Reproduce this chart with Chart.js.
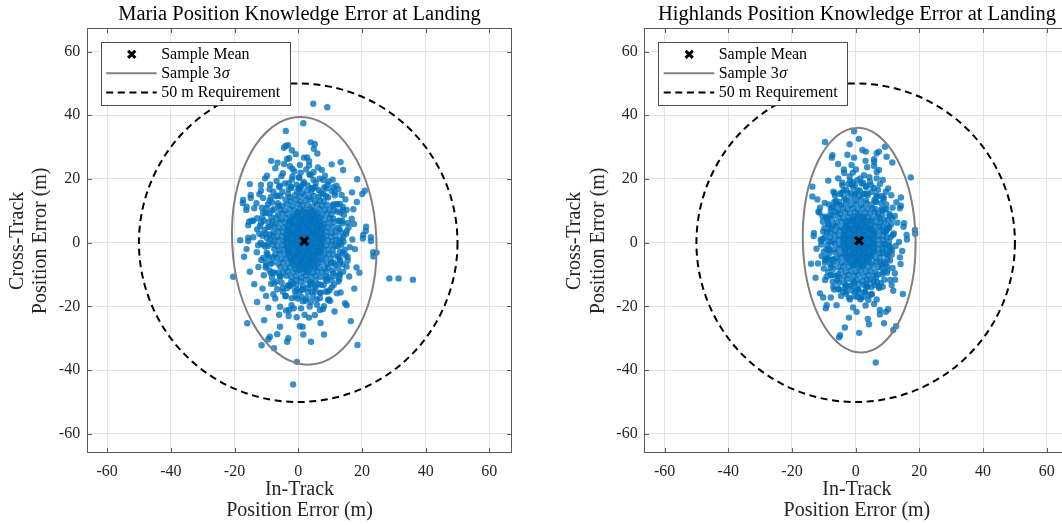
<!DOCTYPE html>
<html><head><meta charset="utf-8">
<script src="https://cdn.jsdelivr.net/npm/chart.js@4.4.1/dist/chart.umd.min.js"></script>
<style>
html,body{margin:0;padding:0;background:#fff;width:1062px;height:525px;overflow:hidden;position:relative}
canvas{position:absolute;top:0}
#c1{left:0}
#c2{left:531px}
</style></head><body>
<canvas id="c1" width="531" height="525"></canvas>
<canvas id="c2" width="558" height="525"></canvas>
<script>
// ---------- axes ----------
const xTicks = [-60, -40, -20, 0, 20, 40, 60];
const yTicks = [-60, -40, -20, 0, 20, 40, 60];
const xRange = [-66.4, 67.2];
const yRange = [-66.1, 67.3];
const titles = ['Maria Position Knowledge Error at Landing', 'Highlands Position Knowledge Error at Landing'];
const xTitle = ['In-Track', 'Position Error (m)'];
const yTitle = ['Cross-Track', 'Position Error (m)'];
const legendLabels = ['Sample Mean', 'Sample 3', '50 m Requirement'];

// ---------- requirement circle: center x, center y, radius ----------
const requirement = [0, 0, 50];

// ---------- Maria ----------
const mariaMean = [1.9, 0.5];
// 3-sigma ellipse: center x, center y, semi-axis x, semi-axis y, rotation (deg)
const mariaEllipse = [1.9, 0.6, 22.65, 38.9, 2.6];
const mariaCore = [
[-0.3,16.2],[1.2,15.7],[2.8,16.4],[4.1,15.9],
[-2.6,14.3],[-1.0,14.9],[0.4,14.5],[2.1,14.8],[3.5,14.2],[5.0,14.7],[6.5,14.4],
[-4.0,13.5],[-2.4,13.0],[-0.9,13.4],[0.7,12.9],[2.2,13.3],[3.9,13.6],[5.3,12.9],[6.8,13.2],[8.0,13.0],
[-5.0,11.6],[-3.5,12.0],[-1.8,11.5],[-0.2,12.1],[1.3,11.7],[2.9,11.9],[4.4,11.4],[5.9,12.0],[7.5,11.6],[9.0,11.9],
[-5.8,10.6],[-4.3,10.1],[-2.6,10.5],[-1.1,10.2],[0.5,10.7],[2.0,10.3],[3.6,10.6],[5.1,10.1],[6.7,10.5],[8.3,10.2],[9.7,10.4],
[-6.4,8.8],[-5.0,9.2],[-3.3,9.0],[-1.7,8.7],[-0.2,9.3],[1.4,8.9],[2.9,9.1],[4.4,8.7],[6.0,9.2],[7.5,8.8],[9.1,9.1],[10.4,8.9],
[-6.9,7.8],[-5.4,7.4],[-3.8,7.7],[-2.3,7.3],[-0.8,7.9],[0.7,7.5],[2.3,7.8],[3.8,7.4],[5.3,7.6],[6.9,7.9],[8.4,7.3],[9.9,7.7],[11.0,7.5],
[-7.2,6.0],[-5.8,6.5],[-4.1,6.1],[-2.7,6.4],[-1.0,5.9],[0.4,6.3],[2.0,6.0],[3.5,6.5],[5.1,6.1],[6.6,6.4],[8.1,5.9],[9.7,6.2],[11.2,6.4],
[-7.6,5.0],[-6.0,4.6],[-4.6,4.9],[-3.0,4.5],[-1.5,5.1],[0.1,4.7],[1.6,5.0],[3.1,4.6],[4.7,4.9],[6.2,4.5],[7.8,5.0],[9.3,4.7],[10.8,4.9],
[-7.8,3.2],[-6.4,3.6],[-4.8,3.3],[-3.3,3.7],[-1.8,3.1],[-0.2,3.5],[1.3,3.2],[2.8,3.6],[4.3,3.3],[5.9,3.7],[7.4,3.2],[9.0,3.5],[10.5,3.1],[11.7,3.6],
[-8.0,2.2],[-6.6,1.8],[-5.1,2.1],[-3.5,1.7],[-2.0,2.3],[-0.5,1.9],[1.0,2.2],[2.6,1.8],[4.1,2.1],[5.6,2.4],[7.2,1.8],[8.7,2.2],[10.3,1.9],[11.8,2.1],
[-7.7,0.4],[-6.2,0.8],[-4.6,0.5],[-3.1,0.9],[-1.6,0.3],[0.0,0.7],[1.5,0.4],[3.1,0.8],[4.6,0.5],[6.1,0.9],[7.7,0.4],[9.2,0.7],[10.7,0.5],[12.0,0.8],
[-7.9,-0.6],[-6.5,-1.0],[-5.0,-0.7],[-3.4,-1.1],[-1.9,-0.5],[-0.3,-0.9],[1.2,-0.6],[2.7,-1.0],[4.3,-0.7],[5.8,-1.1],[7.3,-0.5],[8.9,-0.9],[10.4,-0.6],[11.7,-1.0],
[-7.5,-2.0],[-6.0,-2.4],[-4.5,-2.1],[-2.9,-2.5],[-1.4,-1.9],[0.2,-2.3],[1.7,-2.0],[3.2,-2.4],[4.8,-2.1],[6.3,-2.5],[7.8,-2.0],[9.4,-2.3],[10.9,-2.1],
[-7.3,-3.8],[-5.8,-3.4],[-4.2,-3.7],[-2.7,-3.3],[-1.1,-3.9],[0.4,-3.5],[2.0,-3.8],[3.5,-3.4],[5.0,-3.7],[6.6,-3.3],[8.1,-3.8],[9.6,-3.5],[11.1,-3.7],
[-6.8,-4.8],[-5.3,-5.2],[-3.7,-4.9],[-2.2,-5.3],[-0.6,-4.7],[0.9,-5.1],[2.5,-4.8],[4.0,-5.2],[5.5,-4.9],[7.1,-5.3],[8.6,-4.8],[10.2,-5.1],
[-6.3,-6.6],[-4.8,-6.2],[-3.2,-6.5],[-1.7,-6.1],[-0.1,-6.7],[1.4,-6.3],[3.0,-6.6],[4.5,-6.2],[6.0,-6.5],[7.6,-6.1],[9.1,-6.6],[10.3,-6.3],
[-5.6,-7.6],[-4.1,-8.0],[-2.5,-7.7],[-1.0,-8.1],[0.6,-7.5],[2.1,-7.9],[3.7,-7.6],[5.2,-8.0],[6.7,-7.7],[8.3,-8.1],[9.5,-7.7],
[-4.8,-9.4],[-3.3,-9.0],[-1.7,-9.3],[-0.2,-8.9],[1.4,-9.5],[2.9,-9.1],[4.5,-9.4],[6.0,-9.0],[7.5,-9.3],[8.8,-9.1],
[-3.7,-10.4],[-2.2,-10.8],[-0.6,-10.5],[0.9,-10.9],[2.5,-10.3],[4.0,-10.7],[5.6,-10.4],[7.0,-10.8],
[-2.2,-12.2],[-0.7,-11.8],[0.8,-12.1],[2.4,-11.7],[3.9,-12.3],[5.5,-11.9],
[-0.5,-13.3],[1.5,-13.6],[3.6,-13.2]
];
const mariaInner = [
[-0.2,9.6],[1.4,9.9],[3.0,9.5],[4.4,9.8],
[-1.7,8.2],[-0.1,8.5],[1.6,8.1],[3.2,8.4],[4.7,8.2],[5.8,8.5],
[-2.5,6.9],[-1.0,7.1],[0.6,6.8],[2.2,7.0],[3.8,6.7],[5.3,7.1],[6.6,6.9],
[-3.1,5.5],[-1.6,5.7],[0.0,5.4],[1.5,5.6],[3.1,5.3],[4.6,5.7],[6.1,5.5],[7.2,5.4],
[-3.4,4.1],[-1.9,3.9],[-0.3,4.2],[1.2,4.0],[2.8,4.3],[4.3,3.9],[5.8,4.2],[7.4,4.0],
[-3.6,2.7],[-2.1,2.9],[-0.5,2.6],[1.0,2.8],[2.6,2.5],[4.1,2.9],[5.7,2.6],[7.3,2.8],
[-3.8,1.3],[-2.3,1.1],[-0.7,1.4],[0.8,1.2],[2.4,1.5],[3.9,1.1],[5.5,1.4],[7.0,1.2],[7.8,1.5],
[-3.7,-0.1],[-2.2,0.1],[-0.6,-0.2],[0.9,0.0],[2.5,-0.3],[4.0,0.1],[5.6,-0.2],[7.1,0.0],
[-3.5,-1.5],[-2.0,-1.3],[-0.4,-1.6],[1.1,-1.4],[2.7,-1.7],[4.2,-1.3],[5.8,-1.6],[7.3,-1.4],
[-3.2,-2.9],[-1.6,-3.1],[-0.1,-2.8],[1.5,-3.0],[3.0,-2.7],[4.6,-3.1],[6.1,-2.8],[7.2,-3.0],
[-2.8,-4.3],[-1.3,-4.1],[0.3,-4.4],[1.8,-4.2],[3.4,-4.5],[4.9,-4.1],[6.5,-4.4],
[-2.1,-5.7],[-0.5,-5.9],[1.0,-5.6],[2.6,-5.8],[4.1,-5.5],[5.7,-5.9],
[-1.2,-7.1],[0.4,-6.9],[1.9,-7.2],[3.5,-7.0],[5.0,-7.3],
[0.3,-8.5],[1.9,-8.3],[3.4,-8.6]
];
const mariaRing = [
[13.6,1.2],[12.6,4.8],[12.9,6.8],[11.2,10.2],[10.9,11.6],[8.8,14.6],[7.9,15.3],[5.4,17.5],[4.3,17.2],[1.6,18.6],
[0.4,17.3],[-2.2,17.6],[-3.2,15.2],[-5.6,14.6],[-6.2,11.6],[-8.2,10.1],[-8.1,6.7],[-9.5,4.9],[-8.7,1.1],[-9.5,-1.0],
[-8.0,-4.6],[-8.2,-6.3],[-6.1,-9.5],[-5.7,-10.6],[-3.2,-13.3],[-2.3,-13.6],[0.5,-15.3],[1.6,-14.5],[4.4,-15.3],[5.3,-13.5],
[8.0,-13.3],[8.8,-10.7],[11.0,-9.5],[11.2,-6.3],[12.9,-4.5],[12.5,-1.0],
[15.2,3.6],[13.9,6.1],[14.0,10.2],[12.0,12.2],[11.5,15.8],[8.8,17.0],[7.9,19.7],[4.8,19.8],[3.5,21.4],[0.4,20.4],
[-1.8,20.8],[-3.0,18.7],[-5.8,17.9],[-6.5,14.8],[-9.0,13.2],[-9.1,9.2],[-10.9,6.9],[-10.2,2.8],[-11.2,-0.6],[-9.9,-3.1],
[-10.1,-7.2],[-8.0,-9.3],[-7.5,-12.8],[-4.8,-14.1],[-3.9,-16.7],[-0.8,-16.8],[1.4,-18.4],[2.6,-17.4],[5.8,-17.8],[6.9,-15.7],
[9.8,-14.9],[10.5,-11.8],[13.0,-10.2],[13.1,-6.2],[14.9,-3.9],[14.2,0.3]
];
const mariaHalo = [
[-6.0,17.5],[-4.2,18.6],[-2.0,19.8],[0.2,20.5],[1.8,19.0],[3.9,21.3],[5.5,18.8],[6.8,20.1],[8.2,17.4],[9.5,19.2],
[-7.8,16.0],[-5.3,20.9],[-1.2,22.4],[2.5,23.0],[4.8,22.1],[7.4,22.8],[-3.0,16.8],[1.0,17.6],[6.5,16.5],[10.5,16.2],
[-8.8,18.3],[12.0,17.9],[-9.8,21.0],[-2.6,24.0],[3.0,18.0],[-0.5,18.2],
[-9.5,12.0],[-10.2,9.3],[-9.3,6.5],[-10.6,4.0],[-9.8,1.5],[-10.4,-1.2],[-9.6,-3.8],[-10.1,-6.3],[-9.0,-8.7],[-8.2,-11.0],
[-11.3,7.8],[-11.8,0.0],[-11.0,-4.8],[-12.2,2.8],[-8.6,14.3],[-12.5,-7.6],[-11.4,11.0],[-13.0,-3.0],[-10.8,-10.2],
[12.3,12.0],[13.2,9.5],[13.8,6.8],[13.0,4.2],[14.2,1.9],[13.5,-0.6],[14.0,-3.1],[13.2,-5.6],[12.5,-8.0],[11.8,-10.4],
[15.2,10.3],[15.8,4.8],[16.2,-1.4],[15.5,-4.5],[14.8,13.6],[16.8,7.5],[17.0,1.0],[11.5,14.9],[12.6,-12.2],[16.0,-10.6],
[-5.2,-12.5],[-3.5,-14.3],[-1.0,-15.2],[1.2,-14.8],[3.0,-15.6],[5.4,-14.1],[7.2,-13.2],[9.0,-12.0],[-6.6,-14.6],[-4.0,-16.8],
[-0.2,-17.5],[2.3,-18.2],[4.6,-16.9],[6.8,-17.4],[8.6,-15.3],[10.5,-14.0],[-2.1,-19.6],[0.9,-20.6],[3.6,-20.0],[5.9,-19.5],
[-7.8,-16.2],[-8.5,-12.9],[-1.6,-12.8],[4.2,-12.6],[7.8,-20.8],[-3.8,-21.3],[2.0,-22.6],[9.6,-17.8],
[-11.0,14.0],[-9.0,16.8],[-6.8,19.4],[-4.8,21.8],[-1.8,23.2],[0.8,22.0],[3.4,24.2],[6.2,23.6],[8.4,21.0],[10.8,19.8],
[12.6,16.8],[14.0,11.2],[15.6,6.2],[15.0,2.8],[14.6,-2.2],[14.0,-6.8],[13.0,-9.8],[11.2,-13.2],[9.2,-15.4],[7.0,-15.8],
[4.0,-18.6],[1.0,-17.0],[-2.0,-17.4],[-4.8,-15.4],[-6.8,-12.2],[-8.6,-9.6],[-10.2,-7.8],[-11.6,-5.4],[-12.6,-0.8],[-11.2,2.2],
[-12.0,5.2],[-11.0,9.4],[-10.0,10.8],[-8.2,12.6],[-7.0,14.6],[-5.0,16.0],[-2.2,17.2],[0.2,16.8],[4.6,17.0],[7.2,15.6],
[9.4,14.2],[11.0,12.0],[12.2,9.8],[12.8,6.9],[13.4,3.2],[12.9,0.4],[13.1,-2.8],[12.4,-4.4],[11.6,-7.0],[10.7,-8.8],
[9.9,-10.8],[8.6,-11.4],[6.4,-13.0],[3.2,-14.2],[-0.4,-14.8],[-2.8,-13.4],[-5.6,-10.6],[-7.4,-9.4],[-8.6,-6.6],[-9.2,-4.6],
[-9.4,-0.2],[-9.0,2.6],[-8.8,5.0],[-8.4,8.0],[-7.6,10.6],[-6.4,12.4],[-17.0,-4.4],[-13.8,-13.0],[-6.0,-22.6],[7.0,-25.2],
[11.4,-21.6],[17.6,-14.4],[18.4,12.8],[-15.2,18.4],[6.0,28.0],[-9.4,-20.4],[1.6,-28.8],[-2.0,29.0],[17.8,-2.0],[-18.2,0.8]
];
const mariaOutliers = [
[4.7,43.6],[9.1,42.5],[1.6,37.5],[-3.9,35.1],[3.9,31.5],[5.2,31.0],[4.9,29.5],[-3.2,30.6],[-3.9,30.4],[-4.5,29.8],
[-8.5,25.7],[-6.5,25.1],[-3.5,26.3],[-2.8,26.5],[-0.8,27.8],[1.8,26.7],[2.8,26.8],[3.4,25.6],[0.5,24.4],[10.5,24.6],
[13.3,25.3],[14.1,22.8],[-7.2,23.4],[-4.4,24.7],[18.5,19.9],[20.9,16.3],[20.1,15.3],[16.9,15.8],[13.6,15.0],[11.0,17.4],
[9.2,18.1],[-17.3,13.4],[-14.9,15.0],[-16.2,11.3],[-11.7,16.3],[-10.4,20.2],[-11.7,18.1],[-13.8,10.8],[-13.1,12.4],[-14.6,6.9],
[-12.9,7.7],[21.3,5.0],[17.3,10.5],[14.3,8.7],[13.1,12.2],[-20.4,-10.7],[-15.2,-9.1],[-16.2,-2.0],[-15.7,1.6],[-14.1,1.7],
[-15.4,6.6],[-14.1,6.9],[-11.7,6.1],[-12.9,4.2],[17.5,5.9],[20.4,2.4],[22.8,1.7],[23.5,-3.0],[24.6,-3.1],[28.6,-11.2],
[31.5,-11.2],[36.0,-11.6],[18.3,-7.8],[19.2,-9.4],[15.5,-5.7],[15.2,-7.5],[14.1,-9.1],[12.9,-11.5],[16.5,-24.6],[18.6,-32.1],
[8.1,-28.8],[-11.2,-14.4],[-10.1,-16.7],[-12.9,-18.6],[-16.0,-25.3],[-10.7,-24.3],[-5.7,-26.4],[-6.6,-28.7],[-8.9,-29.5],[-9.4,-30.3],
[-11.5,-32.2],[-7.6,-33.1],[-3.5,-31.1],[-3.1,-30.0],[-0.4,-37.4],[4.0,-31.1],[0.5,-26.2],[1.4,-26.4],[3.4,-23.5],[5.2,-22.7],
[-0.5,-23.4],[-3.0,-23.0],[-7.2,-17.5],[-5.7,-20.1],[-2.8,-21.1],[-1.4,-20.6],[8.1,-19.9],[9.4,-18.0],[12.1,-15.9],[14.7,-19.0],
[15.2,-19.6],[6.8,-21.1],[-1.6,-44.5],[13.3,-15.6],[10.0,-18.3],[5.2,-15.4],[-14.9,14.0],[-12.2,15.2],[-16.3,10.3],[-15.7,5.5],
[-15.7,0.5],[21.2,3.7],[20.3,1.3],[22.8,0.5],[23.6,-4.3],[-17.4,12.4]
];

// ---------- Highlands ----------
const highMean = [1.05, 0.6];
const highEllipse = [1.1, 0.8, 17.7, 35.25, 1.1];
const highCore = [
[-1.6,13.7],[0.0,13.2],[1.6,13.6],[3.3,13.3],
[-3.1,12.3],[-1.6,11.9],[0.1,12.2],[1.7,11.8],[3.3,12.4],[4.9,12.0],
[-4.1,10.9],[-2.6,10.5],[-1.0,10.8],[0.6,10.4],[2.1,10.9],[3.7,10.6],[5.3,10.8],[6.3,10.5],
[-4.9,9.1],[-3.3,9.5],[-1.8,9.2],[-0.2,9.6],[1.4,9.1],[2.9,9.4],[4.5,9.2],[6.0,9.5],[7.0,9.1],
[-5.5,8.1],[-4.0,7.7],[-2.4,8.0],[-0.9,7.6],[0.7,8.1],[2.2,7.7],[3.8,8.0],[5.3,7.6],[6.9,8.1],[7.6,7.7],
[-5.9,6.3],[-4.4,6.7],[-2.8,6.4],[-1.2,6.8],[0.3,6.3],[1.9,6.7],[3.4,6.4],[5.0,6.8],[6.5,6.3],[7.9,6.6],
[-6.3,5.3],[-4.8,4.9],[-3.2,5.2],[-1.7,4.8],[-0.1,5.3],[1.4,4.9],[3.0,5.2],[4.5,4.8],[6.1,5.3],[7.6,4.9],[8.4,5.2],
[-6.5,3.5],[-5.0,3.9],[-3.4,3.6],[-1.9,4.0],[-0.3,3.5],[1.2,3.9],[2.8,3.6],[4.3,4.0],[5.9,3.5],[7.4,3.8],[8.6,3.6],
[-6.7,2.5],[-5.2,2.1],[-3.6,2.4],[-2.1,2.0],[-0.5,2.5],[1.0,2.1],[2.6,2.4],[4.1,2.0],[5.7,2.5],[7.2,2.1],[8.7,2.3],
[-6.8,0.7],[-5.3,1.1],[-3.7,0.8],[-2.2,1.2],[-0.6,0.7],[0.9,1.1],[2.5,0.8],[4.0,1.2],[5.6,0.7],[7.1,1.0],[8.6,0.8],
[-6.6,-0.3],[-5.1,-0.7],[-3.5,-0.4],[-2.0,-0.8],[-0.4,-0.3],[1.1,-0.7],[2.7,-0.4],[4.2,-0.8],[5.8,-0.3],[7.3,-0.6],[8.7,-0.4],
[-6.7,-2.1],[-5.2,-1.7],[-3.6,-2.0],[-2.1,-1.6],[-0.5,-2.1],[1.0,-1.7],[2.6,-2.0],[4.1,-1.6],[5.7,-2.1],[7.2,-1.8],[8.5,-2.0],
[-6.4,-3.1],[-4.9,-3.5],[-3.3,-3.2],[-1.8,-3.6],[-0.2,-3.1],[1.3,-3.5],[2.9,-3.2],[4.4,-3.6],[6.0,-3.1],[7.5,-3.4],[8.4,-3.2],
[-6.1,-4.9],[-4.6,-4.5],[-3.0,-4.8],[-1.5,-4.4],[0.1,-4.9],[1.6,-4.5],[3.2,-4.8],[4.7,-4.4],[6.3,-4.9],[7.8,-4.6],
[-5.8,-5.9],[-4.3,-6.3],[-2.7,-6.0],[-1.2,-6.4],[0.4,-5.9],[1.9,-6.3],[3.5,-6.0],[5.0,-6.4],[6.6,-5.9],[7.7,-6.2],
[-5.3,-7.7],[-3.8,-7.3],[-2.2,-7.6],[-0.7,-7.2],[0.9,-7.7],[2.4,-7.3],[4.0,-7.6],[5.5,-7.2],[7.1,-7.6],
[-4.6,-8.7],[-3.1,-9.1],[-1.5,-8.8],[0.0,-9.2],[1.6,-8.7],[3.1,-9.1],[4.7,-8.8],[6.2,-9.2],
[-3.7,-10.5],[-2.2,-10.1],[-0.6,-10.4],[0.9,-10.0],[2.5,-10.5],[4.0,-10.1],[5.6,-10.4],
[-2.6,-11.5],[-1.0,-11.9],[0.5,-11.6],[2.1,-12.0],[3.6,-11.5],[4.6,-11.8],
[-0.6,-13.2],[1.0,-12.9],[2.6,-13.3]
];
const highInner = [
[-0.5,8.2],[1.0,8.5],[2.6,8.1],
[-2.3,6.8],[-0.7,7.1],[0.9,6.7],[2.4,7.0],[4.0,6.8],
[-3.1,5.4],[-1.5,5.7],[0.0,5.3],[1.6,5.6],[3.1,5.4],[4.7,5.7],
[-3.5,4.0],[-2.0,4.3],[-0.4,3.9],[1.1,4.2],[2.7,3.9],[4.2,4.2],[5.4,4.0],
[-3.8,2.6],[-2.3,2.9],[-0.7,2.5],[0.8,2.8],[2.4,2.5],[3.9,2.8],[5.5,2.6],
[-3.9,1.2],[-2.4,1.5],[-0.8,1.1],[0.7,1.4],[2.3,1.1],[3.8,1.4],[5.4,1.2],
[-3.9,-0.2],[-2.4,0.1],[-0.8,-0.3],[0.7,0.0],[2.3,-0.3],[3.8,0.0],[5.4,-0.2],
[-3.7,-1.6],[-2.2,-1.3],[-0.6,-1.7],[0.9,-1.4],[2.5,-1.7],[4.0,-1.4],[5.6,-1.6],
[-3.4,-3.0],[-1.8,-2.7],[-0.3,-3.1],[1.3,-2.8],[2.8,-3.1],[4.4,-2.8],[5.3,-3.0],
[-2.8,-4.4],[-1.3,-4.1],[0.3,-4.5],[1.8,-4.2],[3.4,-4.5],[4.7,-4.3],
[-2.0,-5.8],[-0.4,-5.5],[1.1,-5.9],[2.7,-5.6],[4.1,-5.8],
[-0.8,-7.2],[0.7,-6.9],[2.3,-7.2]
];
const highRing = [
[10.4,0.2],[9.5,3.6],[9.9,5.4],[8.4,8.7],[8.3,10.1],[6.4,12.8],[5.9,13.5],[3.7,15.5],[2.9,15.4],[0.6,16.4],
[-0.2,15.4],[-2.5,15.5],[-3.1,13.5],[-5.2,12.8],[-5.5,10.1],[-7.2,8.7],[-7.1,5.4],[-8.3,3.6],[-7.6,0.1],[-8.3,-1.8],
[-7.1,-5.2],[-7.2,-6.9],[-5.5,-9.9],[-5.2,-11.0],[-3.1,-13.3],[-2.5,-13.7],[-0.2,-15.2],[0.6,-14.6],[3.0,-15.2],[3.7,-13.7],
[5.9,-13.3],[6.4,-11.0],[8.3,-9.9],[8.4,-6.9],[9.9,-5.2],[9.5,-1.8],
[11.7,2.5],[10.5,4.8],[10.7,8.5],[9.0,10.4],[8.7,13.6],[6.5,14.8],[5.8,17.2],[3.3,17.5],[2.3,18.8],[-0.3,18.0],
[-1.3,18.3],[-3.8,16.4],[-4.5,15.6],[-6.7,12.8],[-7.0,11.2],[-8.7,7.7],[-8.5,5.6],[-9.7,1.7],[-8.9,-0.7],[-9.3,-4.6],
[-7.9,-6.7],[-7.8,-10.2],[-5.9,-11.8],[-5.3,-14.6],[-3.0,-15.4],[-2.1,-17.3],[0.5,-17.0],[1.5,-17.8],[4.1,-16.5],[5.0,-16.2],
[7.3,-13.8],[7.9,-12.6],[9.8,-9.4],[9.9,-7.5],[11.3,-3.8],[10.9,-1.5]
];
const highHalo = [
[-4.8,15.3],[-2.9,16.6],[-0.8,17.5],[1.3,16.4],[3.2,17.8],[5.1,16.0],[6.8,14.5],[-6.2,13.1],[-1.9,20.8],[0.5,19.6],
[2.6,21.2],[4.3,20.6],[-3.6,21.9],[8.0,12.4],[-7.4,11.0],[-0.3,14.9],[2.4,15.2],[10.2,17.0],[-8.6,19.5],[5.8,25.4],
[-8.0,8.8],[-8.6,5.9],[-9.0,3.2],[-8.4,0.4],[-9.2,-2.0],[-8.7,-5.0],[-7.9,-7.8],[-7.3,-10.1],[-10.3,6.6],[-11.0,1.0],
[-10.0,-8.1],[-9.7,12.5],[-12.3,-1.9],[-11.8,-6.5],
[9.6,10.5],[10.0,7.2],[10.4,4.5],[9.8,1.6],[10.5,-0.9],[10.1,-3.8],[9.4,-6.6],[8.8,-9.2],[12.0,2.9],[12.5,-1.0],
[11.6,-7.9],[12.8,12.7],[11.2,14.9],[13.6,0.2],
[-5.3,-12.6],[-3.4,-14.1],[-1.2,-15.0],[0.9,-14.6],[2.8,-15.5],[4.9,-14.0],[6.7,-12.4],[-4.6,-16.7],[-1.8,-17.8],[1.6,-17.2],
[4.0,-17.9],[8.5,-13.8],[-0.5,-12.4],[3.4,-12.9],[-6.8,-14.7],[5.8,-19.2],
[-8.4,12.0],[-6.6,15.6],[-4.2,18.0],[-1.0,19.0],[1.8,18.6],[4.8,18.0],[7.0,16.6],[8.8,14.2],[9.6,12.0],[10.6,9.0],
[11.2,5.8],[11.0,1.8],[11.4,-2.4],[10.8,-5.6],[10.0,-8.6],[9.0,-11.6],[7.4,-14.2],[5.0,-16.2],[2.4,-17.0],[-0.4,-16.8],
[-3.0,-16.0],[-5.4,-14.6],[-7.2,-12.2],[-8.6,-9.2],[-9.6,-6.2],[-10.0,-2.8],[-10.2,1.2],[-9.8,4.6],[-9.4,8.2],[-7.8,10.4],
[-5.8,12.0],[-3.6,14.0],[-1.4,15.6],[1.2,14.6],[3.8,15.0],[6.2,13.0],[8.2,10.6],[9.0,7.0],[9.4,3.4],[9.2,-0.4],
[9.6,-3.6],[8.8,-6.0],[8.2,-8.0],[7.0,-10.0],[5.6,-12.2],[3.4,-13.8],[1.0,-15.6],[-1.6,-13.6],[-3.8,-12.4],[-5.8,-10.4],
[-7.0,-8.2],[-7.6,-5.4],[-8.2,-2.4],[-8.0,1.8],[-7.8,4.4],[-7.4,7.2],[-6.2,9.6],[-4.6,11.8],[-12.6,-11.0],[-12.0,13.6],
[12.4,-11.6],[14.6,-2.6],[-14.0,-6.6],[4.2,-25.6],[-3.4,-26.6],[-2.6,27.6],[3.2,28.6],[14.2,14.2]
];
const highOutliers = [
[-0.5,35.0],[1.0,32.6],[-9.6,31.6],[-1.9,30.9],[2.1,29.1],[-7.3,27.5],[9.2,30.1],[7.3,28.6],[6.6,28.1],[9.7,27.0],
[11.5,25.2],[5.8,26.2],[3.1,25.7],[-0.5,26.7],[-5.5,24.7],[-3.7,23.0],[-1.3,24.4],[-0.9,22.0],[0.1,23.0],[3.6,23.7],
[5.8,24.1],[6.6,22.2],[7.3,22.8],[17.3,20.5],[-5.5,20.2],[-4.2,18.8],[-1.8,19.5],[-2.3,18.4],[1.4,20.2],[4.5,19.2],
[6.6,20.2],[8.5,19.7],[7.6,18.4],[-13.6,17.6],[-13.6,14.5],[-7.0,16.0],[-6.5,14.8],[9.5,16.0],[8.2,14.7],[-11.2,11.0],
[-11.7,9.7],[14.2,11.6],[11.6,11.0],[-10.4,8.2],[-8.9,7.1],[12.3,8.4],[13.1,6.3],[15.2,6.1],[-13.1,3.1],[18.6,4.0],
[16.0,2.4],[-10.2,3.5],[-11.4,9.5],[-13.2,2.1],[-10.8,-0.6],[18.7,2.8],[16.1,1.0],[15.0,5.0],[13.9,10.8],[11.5,7.6],
[-7.5,26.7],[13.9,-4.6],[14.1,-6.7],[12.3,-9.6],[10.8,-11.7],[11.3,-13.3],[14.8,-16.1],[10.2,-20.9],[9.5,-21.7],[7.6,-22.5],
[8.9,-25.3],[12.7,-26.2],[11.8,-27.4],[6.3,-37.6],[1.1,-28.3],[3.8,-23.9],[-2.1,-23.5],[-4.9,-29.0],[-5.2,-29.7],[-11.2,-15.9],
[-10.2,-17.2],[-9.1,-19.6],[-9.4,-20.6],[-7.8,-17.2],[-6.0,-19.6],[-3.9,-15.4],[-0.8,-20.3],[0.3,-21.7],[3.1,-19.7],[6.6,-17.8],
[7.6,-21.1],[-10.7,0.5],[-10.7,-4.2],[-9.6,-5.4],[-8.3,-3.3],[-9.1,-10.7],[-9.6,-11.7],[-7.0,-13.8],[11.8,-15.1],[9.7,4.0],
[10.8,-2.3]
];

// ---------- chart factory ----------
const FONT = "'Liberation Serif', 'Times New Roman', serif";
const pointColor = 'rgba(0,114,189,0.78)';

const decor = {
  id: 'decor',
  afterDatasetsDraw(chart) {
    const o = chart.options.plugins.decor;
    const {ctx, chartArea: a, scales: {x, y}} = chart;
    ctx.save();
    ctx.beginPath(); ctx.rect(a.left, a.top, a.right - a.left, a.bottom - a.top); ctx.clip();
    const e = o.ellipse;
    const ex = x.getPixelForValue(e[0]), ey = y.getPixelForValue(e[1]);
    const erx = Math.abs(x.getPixelForValue(e[0] + e[2]) - ex);
    const ery = Math.abs(y.getPixelForValue(e[1] + e[3]) - ey);
    ctx.beginPath(); ctx.ellipse(ex, ey, erx, ery, -e[4] * Math.PI / 180, 0, Math.PI * 2);
    ctx.strokeStyle = '#808080'; ctx.lineWidth = 2; ctx.setLineDash([]); ctx.stroke();
    const cx = x.getPixelForValue(requirement[0]), cy = y.getPixelForValue(requirement[1]);
    const rx = Math.abs(x.getPixelForValue(requirement[0] + requirement[2]) - cx);
    const ry = Math.abs(y.getPixelForValue(requirement[1] + requirement[2]) - cy);
    ctx.beginPath(); ctx.ellipse(cx, cy, rx, ry, 0, 0, Math.PI * 2);
    ctx.strokeStyle = '#000'; ctx.lineWidth = 2; ctx.setLineDash([7, 4.6]); ctx.stroke();
    ctx.restore();
  },
  afterDraw(chart) {
    const o = chart.options.plugins.decor;
    const {ctx, chartArea: a, scales: {x, y}} = chart;
    ctx.save();
    ctx.strokeStyle = '#5a5a5a'; ctx.lineWidth = 1; ctx.setLineDash([]);
    const L = Math.round(a.left) + 0.5, R = Math.round(a.right) - 0.5, T = Math.round(a.top) + 0.5, B = Math.round(a.bottom) - 0.5;
    ctx.strokeRect(L, T, R - L, B - T);
    ctx.beginPath();
    xTicks.forEach(v => { const p = Math.round(x.getPixelForValue(v)) + 0.5; ctx.moveTo(p, B); ctx.lineTo(p, B - 4.5); ctx.moveTo(p, T); ctx.lineTo(p, T + 4.5); });
    yTicks.forEach(v => { const p = Math.round(y.getPixelForValue(v)) + 0.5; ctx.moveTo(L, p); ctx.lineTo(L + 4.5, p); ctx.moveTo(R, p); ctx.lineTo(R - 4.5, p); });
    ctx.stroke();
    ctx.fillStyle = '#000'; ctx.font = '20.5px ' + FONT; ctx.textAlign = 'center'; ctx.textBaseline = 'middle';
    ctx.fillText(o.title, (a.left + a.right) / 2, 15);
    const bx = a.left + 14, by = a.top + 14, bw = 189, bh = 63;
    ctx.fillStyle = '#fff'; ctx.fillRect(bx, by, bw, bh);
    ctx.strokeStyle = '#4d4d4d'; ctx.lineWidth = 1;
    ctx.strokeRect(Math.round(bx) + 0.5, Math.round(by) + 0.5, bw, bh);
    const r1 = by + 12, r2 = by + 31, r3 = by + 50.3;
    const mx = bx + 31, s = 3.6;
    ctx.strokeStyle = '#000'; ctx.lineWidth = 3;
    ctx.beginPath(); ctx.moveTo(mx - s, r1 - s); ctx.lineTo(mx + s, r1 + s); ctx.moveTo(mx + s, r1 - s); ctx.lineTo(mx - s, r1 + s); ctx.stroke();
    ctx.strokeStyle = '#808080'; ctx.lineWidth = 2;
    ctx.beginPath(); ctx.moveTo(bx + 5.5, r2); ctx.lineTo(bx + 56, r2); ctx.stroke();
    ctx.strokeStyle = '#000'; ctx.setLineDash([7, 4.6]);
    ctx.beginPath(); ctx.moveTo(bx + 5.5, r3); ctx.lineTo(bx + 56, r3); ctx.stroke();
    ctx.setLineDash([]);
    ctx.fillStyle = '#000'; ctx.font = '16px ' + FONT; ctx.textAlign = 'left'; ctx.textBaseline = 'middle';
    const tx = bx + 60.5;
    ctx.fillText(legendLabels[0], tx, r1);
    ctx.fillText(legendLabels[1], tx, r2);
    const w = ctx.measureText(legendLabels[1]).width;
    ctx.font = 'italic 16px ' + FONT;
    ctx.fillText('\u03C3', tx + w + 0.5, r2);
    ctx.font = '16px ' + FONT;
    ctx.fillText(legendLabels[2], tx, r3);
    ctx.restore();
  }
};

function makeChart(id, title, mean, ellipse, groups, padLeft, padRight) {
  const pts = [].concat(...groups).map(p => ({x: p[0], y: p[1]}));
  return new Chart(document.getElementById(id), {
    type: 'scatter',
    data: {
      datasets: [
        {label: 'Sample Mean', data: [{x: mean[0], y: mean[1]}], pointStyle: 'crossRot', radius: 5.5, borderWidth: 3.2, borderColor: '#000', backgroundColor: '#000'},
        {label: 'Samples', data: pts, pointRadius: 3.2, pointBorderWidth: 0, backgroundColor: pointColor, borderColor: 'rgba(0,0,0,0)'}
      ]
    },
    options: {
      responsive: false, animation: false, devicePixelRatio: 1,
      layout: {padding: {left: padLeft, right: padRight, top: 28.3, bottom: 0}},
      plugins: {legend: {display: false}, title: {display: false}, tooltip: {enabled: false}, decor: {title: title, ellipse: ellipse}},
      scales: {
        x: {
          type: 'linear', min: xRange[0], max: xRange[1],
          afterBuildTicks: s => { s.ticks = xTicks.map(v => ({value: v})); },
          afterFit: s => { s.height = 71.7; },
          grid: {color: '#e3e3e3', drawTicks: false},
          border: {display: false},
          ticks: {font: {family: FONT, size: 16}, color: '#262626', padding: 8.5, maxRotation: 0, autoSkip: false, callback: v => String(v)},
          title: {display: true, text: xTitle, color: '#262626', font: {family: FONT, size: 20, lineHeight: 1.05}, padding: {top: 0, bottom: 3.5}}
        },
        y: {
          type: 'linear', min: yRange[0], max: yRange[1],
          afterBuildTicks: s => { s.ticks = yTicks.map(v => ({value: v})); },
          afterFit: s => { s.width = 86.7; },
          grid: {color: '#e3e3e3', drawTicks: false},
          border: {display: false},
          ticks: {font: {family: FONT, size: 16}, color: '#262626', padding: 6.5, autoSkip: false, callback: v => String(v)},
          title: {display: true, text: yTitle, color: '#262626', font: {family: FONT, size: 20, lineHeight: 1.165}, padding: {top: 6, bottom: 0}}
        }
      }
    },
    plugins: [decor]
  });
}

makeChart('c1', titles[0], mariaMean, mariaEllipse, [mariaCore, mariaInner, mariaRing, mariaHalo, mariaOutliers], 0, 18.7);
makeChart('c2', titles[1], highMean, highEllipse, [highCore, highInner, highRing, highHalo, highOutliers], 26.5, 19.3);
</script>
</body></html>
